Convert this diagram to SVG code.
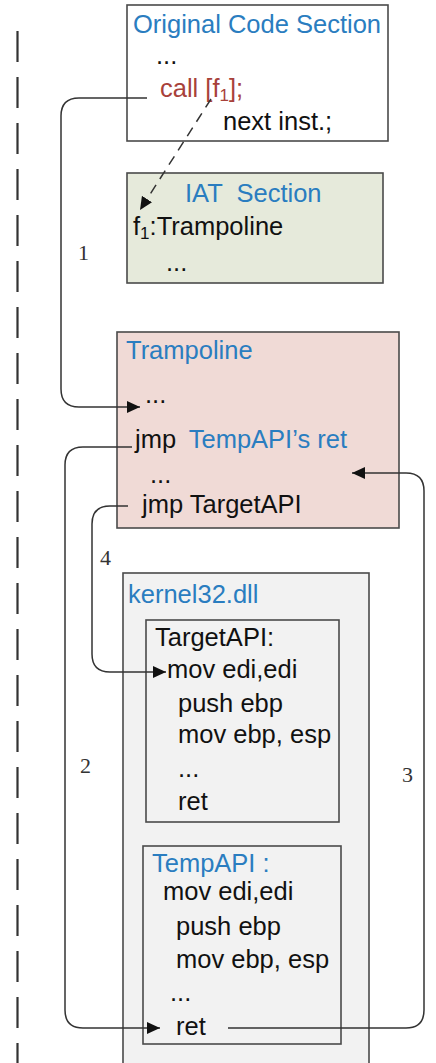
<svg xmlns="http://www.w3.org/2000/svg" width="436" height="1063" viewBox="0 0 436 1063">
<defs>
<marker id="ah" markerUnits="userSpaceOnUse" markerWidth="14" markerHeight="12" refX="13" refY="6" orient="auto"><path d="M0,0 L13,6 L0,12 z" fill="#111"/></marker>
<style>
.t{font-family:"Liberation Sans",Arial,sans-serif;font-size:25.5px;fill:#111}
.b{fill:#2a7dc0}
.r{fill:#a8413a}
.n{font-family:"Liberation Serif","Times New Roman",serif;font-size:22px;fill:#333}
.box{stroke:#4a4a4a;stroke-width:1.6}
.c{fill:none;stroke:#333;stroke-width:1.5}
</style>
</defs>
<rect width="436" height="1063" fill="#fff"/>
<line x1="17.5" y1="31" x2="17.5" y2="1063" stroke="#333" stroke-width="2.2" stroke-dasharray="31 15"/>

<g id="orig">
<rect class="box" x="127" y="5" width="261" height="136" fill="#fff"/>
<text class="t b" x="133" y="33">Original Code Section</text>
<text class="t" x="156" y="64">...</text>
<text class="t r" x="160" y="97">call [f<tspan font-size="17" dy="4">1</tspan><tspan dy="-4">];</tspan></text>
<text class="t" x="223" y="130">next inst.;</text>
</g>

<g id="iat">
<rect class="box" x="127" y="173" width="256" height="110" fill="#e6eadb"/>
<text class="t b" x="185" y="202" xml:space="preserve">IAT  Section</text>
<text class="t" x="133" y="235">f<tspan font-size="17" dy="4">1</tspan><tspan dy="-4">:Trampoline</tspan></text>
<text class="t" x="166" y="271">...</text>
</g>

<g id="tramp">
<rect class="box" x="117" y="332" width="282" height="196" fill="#f0dad6"/>
<text class="t b" x="126" y="359">Trampoline</text>
<text class="t" x="145" y="403">...</text>
<text class="t" x="135" y="448">jmp <tspan class="b" dx="6">TempAPI’s ret</tspan></text>
<text class="t" x="150" y="483">...</text>
<text class="t" x="142" y="513">jmp TargetAPI</text>
</g>

<g id="kernel">
<rect class="box" x="123" y="573" width="246" height="500" fill="#f2f2f2"/>
<text class="t b" x="128" y="603">kernel32.dll</text>
</g>

<g id="target">
<rect class="box" x="146" y="620" width="193" height="202" fill="#f2f2f2"/>
<text class="t" x="155" y="646">TargetAPI:</text>
<text class="t" x="167" y="678">mov edi,edi</text>
<text class="t" x="178" y="712">push ebp</text>
<text class="t" x="178" y="743">mov ebp, esp</text>
<text class="t" x="178" y="777">...</text>
<text class="t" x="178" y="810">ret</text>
</g>

<g id="temp">
<rect class="box" x="143" y="846" width="198" height="198" fill="#f2f2f2"/>
<text class="t b" x="152" y="872">TempAPI :</text>
<text class="t" x="163" y="900">mov edi,edi</text>
<text class="t" x="176" y="935">push ebp</text>
<text class="t" x="176" y="968">mov ebp, esp</text>
<text class="t" x="170" y="1001">...</text>
<text class="t" x="176" y="1035">ret</text>
</g>

<g id="connectors">
<path class="c" d="M147,98 H79 Q61,98 61,116 V389 Q61,407 79,407 H140" marker-end="url(#ah)"/>
<path class="c" d="M132,447 H83 Q65,447 65,465 V1010 Q65,1028 83,1028 H160" marker-end="url(#ah)"/>
<path class="c" d="M228,1028 H406 Q424,1028 424,1010 V491 Q424,473 406,473 H352" marker-end="url(#ah)"/>
<path class="c" d="M128,506 H110 Q92,506 92,524 V654 Q92,672 110,672 H166" marker-end="url(#ah)"/>
<path class="c" d="M211,99 L140,210" stroke-dasharray="10 7" marker-end="url(#ah)"/>
<text class="n" x="78" y="260">1</text>
<text class="n" x="100" y="565">4</text>
<text class="n" x="80" y="773">2</text>
<text class="n" x="402" y="782">3</text>
</g>
</svg>
